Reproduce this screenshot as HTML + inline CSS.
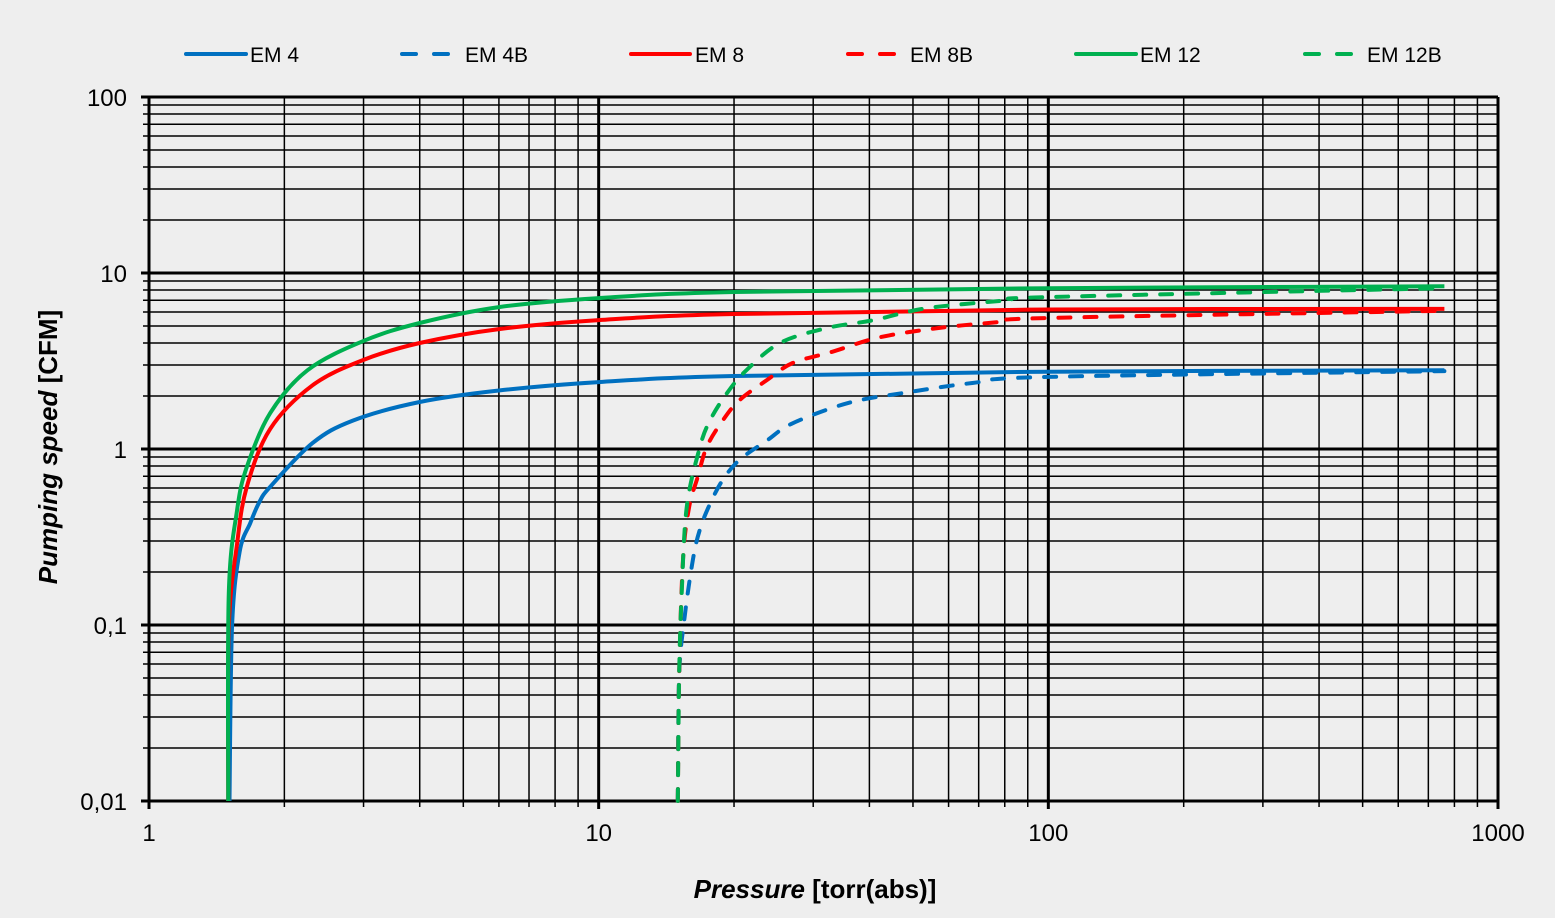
<!DOCTYPE html>
<html><head><meta charset="utf-8"><style>
html,body{margin:0;padding:0;background:#eeeeee;}
svg{display:block;font-family:"Liberation Sans",Arial,sans-serif;}
</style></head><body>
<svg id="chart" width="1555" height="918" viewBox="0 0 1555 918">
<rect x="0" y="0" width="1555" height="918" fill="#eeeeee"/>
<g id="grid"></g>
<g id="series"></g>
<g id="legend"></g>
<text x="815" y="898" text-anchor="middle" font-size="26" font-weight="bold" fill="#000"><tspan font-style="italic">Pressure</tspan> [torr(abs)]</text>
<text transform="translate(57,447) rotate(-90)" text-anchor="middle" font-size="26" font-weight="bold" fill="#000"><tspan font-style="italic">Pumping speed</tspan> [CFM]</text>
</svg>
<script>
const xTicks=[1,10,100,1000];
const xTickLabels=["1","10","100","1000"];
const yTicks=[0.01,0.1,1,10,100];
const yTickLabels=["0,01","0,1","1","10","100"];
const seriesNames=["EM 4","EM 4B","EM 8","EM 8B","EM 12","EM 12B"];
const seriesColors=["#0070c0","#0070c0","#ff0000","#ff0000","#00b050","#00b050"];
const seriesDashed=[false,true,false,true,false,true];
const em4P=[1.51,1.53,1.59,1.68,1.76,1.86,2.31,2.84,4.0,6.0,10,20,100,760];
const em4S=[0.01,0.097,0.26,0.38,0.5,0.61,1.08,1.45,1.85,2.15,2.4,2.6,2.75,2.8];
const em8P=[1.5,1.505,1.57,1.65,1.86,2.31,2.99,4.0,6.0,10,20,100,760];
const em8S=[0.01,0.097,0.29,0.61,1.3,2.3,3.2,4.0,4.8,5.4,5.85,6.2,6.25];
const em12P=[1.5,1.505,1.57,1.65,1.86,2.25,2.99,4.0,6.0,10,20,100,760];
const em12S=[0.01,0.152,0.45,0.79,1.6,2.8,4.1,5.2,6.4,7.2,7.8,8.2,8.4];
const em4bP=[15.0,15.1,15.5,16.2,16.8,17.7,18.9,20.6,23.7,27,36,48.7,67.8,100,760];
const em4bS=[0.01,0.051,0.107,0.235,0.35,0.49,0.67,0.87,1.12,1.4,1.83,2.1,2.37,2.57,2.77];
const em8bP=[15.0,15.1,15.4,15.9,16.6,17.4,18.9,20.6,23.7,27,33,42,57,78,100,760];
const em8bS=[0.01,0.05,0.235,0.47,0.69,1.03,1.46,1.9,2.47,3.08,3.56,4.3,4.87,5.27,5.55,6.1];
const em12bP=[15.0,15.1,15.3,15.7,16.8,17.7,19.3,21.3,25.3,32.2,40.9,53.5,81,100,760];
const em12bS=[0.01,0.051,0.152,0.47,1.03,1.46,2.08,2.8,4.0,4.87,5.4,6.3,7.0,7.3,8.2];
const seriesP=[em4P,em4bP,em8P,em8bP,em12P,em12bP];
const seriesS=[em4S,em4bS,em8S,em8bS,em12S,em12bS];

const X0=149,X1=1498,Y0=801,Y1=97;
function xs(p){return X0+Math.log10(p)/3*(X1-X0);}
function ys(s){return Y0-(Math.log10(s)+2)/4*(Y0-Y1);}
const NS="http://www.w3.org/2000/svg";
function mk(tag,attrs,parent){const e=document.createElementNS(NS,tag);for(const k in attrs)e.setAttribute(k,attrs[k]);parent.appendChild(e);return e;}
function smoothPath(pts){
 let d='M'+pts[0][0].toFixed(1)+','+pts[0][1].toFixed(1);
 for(let i=0;i<pts.length-1;i++){
  const p0=pts[Math.max(0,i-1)],p1=pts[i],p2=pts[i+1],p3=pts[Math.min(pts.length-1,i+2)];
  const t=0.5/3*2;
  const c1=[p1[0]+(p2[0]-p0[0])*t/2,p1[1]+(p2[1]-p0[1])*t/2];
  const c2=[p2[0]-(p3[0]-p1[0])*t/2,p2[1]-(p3[1]-p1[1])*t/2];
  d+=' C'+c1[0].toFixed(1)+','+c1[1].toFixed(1)+' '+c2[0].toFixed(1)+','+c2[1].toFixed(1)+' '+p2[0].toFixed(1)+','+p2[1].toFixed(1);
 }
 return d;
}
const grid=document.getElementById('grid');
for(let d=0;d<3;d++){for(let m=2;m<=9;m++){const v=Math.pow(10,d)*m;const x=xs(v);
 const l=mk('line',{x1:x,x2:x,y1:Y1,y2:Y0+6,stroke:'#000','stroke-width':1.5},grid);
 
 }}
for(let d=-2;d<2;d++){for(let m=2;m<=9;m++){const v=Math.pow(10,d)*m;const y=ys(v);
 const l=mk('line',{x1:X0-6,x2:X1,y1:y,y2:y,stroke:'#000','stroke-width':1.5},grid);
 
 }}
xTicks.forEach((v,i)=>{const x=xs(v);
 const l=mk('line',{x1:x,x2:x,y1:Y1,y2:Y0+8,stroke:'#000','stroke-width':3},grid);
 
 
 const t=mk('text',{x:x,y:841,'text-anchor':'middle','font-size':24,fill:'#000'},grid);t.textContent=xTickLabels[i];
 
 });
yTicks.forEach((v,i)=>{const y=ys(v);
 const l=mk('line',{x1:X0-8,x2:X1,y1:y,y2:y,stroke:'#000','stroke-width':3},grid);
 
 
 const t=mk('text',{x:127,y:y+9,'text-anchor':'end','font-size':24,fill:'#000'},grid);t.textContent=yTickLabels[i];
 
 });
const sg=document.getElementById('series');
[0,1,2,3,4,5].forEach(i=>{const P=seriesP[i],S=seriesS[i];
 const pts=P.map((p,j)=>[xs(p),ys(S[j])]);
 const path=mk('path',{d:smoothPath(pts),fill:'none',stroke:seriesColors[i],'stroke-width':4,'stroke-linejoin':'round','stroke-linecap':seriesDashed[i]?'round':'butt'},sg);
 if(seriesDashed[i])path.setAttribute('stroke-dasharray','12 14');
 
 });
const lg=document.getElementById('legend');
const legLine=[[186,246],[402,455],[631,690],[848,900],[1076,1136],[1305,1357]];
const legText=[250,465,695,910,1140,1367];
seriesNames.forEach((n,i)=>{const g=mk('g',{},lg);
 
 
 const l=mk('line',{x1:legLine[i][0],x2:legLine[i][1],y1:54,y2:54,stroke:seriesColors[i],'stroke-width':4,'stroke-linecap':'round'},g);
 if(seriesDashed[i])l.setAttribute('stroke-dasharray','14 18');
 
 
 const t=mk('text',{x:legText[i],y:62,'font-size':21,fill:'#000'},g);t.textContent=n;
 
 });
</script>
</body></html>
